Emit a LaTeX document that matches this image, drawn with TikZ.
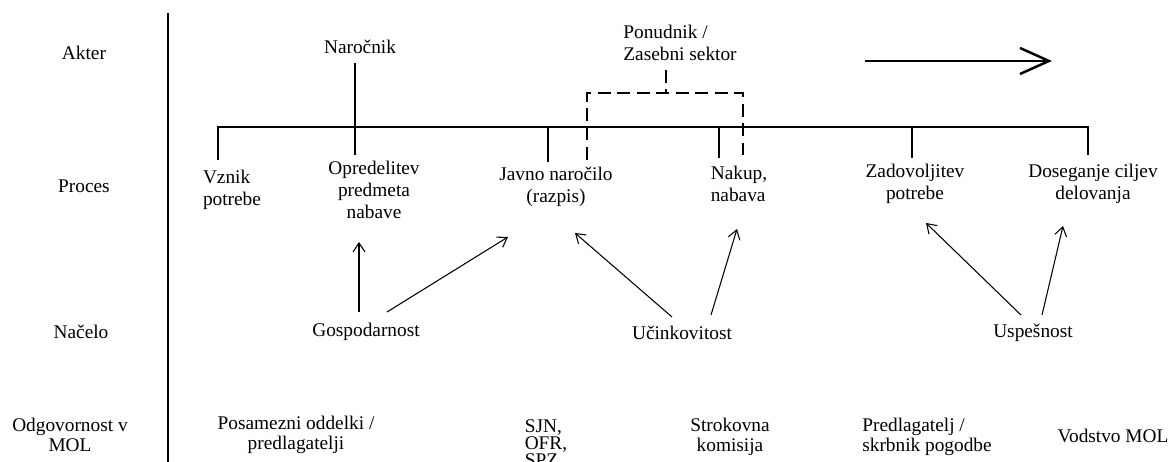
\documentclass[tikz,border=0pt]{standalone}
\usepackage{fontspec}
\setmainfont{Liberation Serif}
\usetikzlibrary{
	calc,               %计算
	arrows.meta         %提供各种箭头
}
\tikzset{
	every picture/.style={
		>={Straight Barb[length=1.8mm,width=2.4mm]},
		x=0.02cm, y=0.02cm
}}
\tikzset{txt/.style={inner sep=0pt, align=center,
		font=\fontsize{11}{12.5}\selectfont}}
\tikzset{txtl/.style={txt, align=left}}
\tikzset{txtb/.style={txt, font=\fontsize{11}{11.3}\selectfont}}
\tikzset{crta/.style={dash pattern=on 0.26cm off 0.13cm}}

\begin{document}
\begin{tikzpicture}[line width=0.6pt]
\useasboundingbox (0,0) rectangle (1170,462);
\clip (0,0) rectangle (1170,462);
%左边的行标题
\node[txt] (akter) at (84,409) {Akter};
\node[txt] (proces) at (84,276) {Proces};
\node[txt] (nacelo) at (81,130) {Načelo};
\node[txtb] (odgov) at (70,27) {Odgovornost v\\MOL};
%分隔竖线
\draw (168,449) -- (168,0);
%参与者
\node[txt] (narocnik) at (360,415) {Naročnik};
\node[txtl] (ponudnik) at (680,419) {Ponudnik /\\Zasebni sektor};
%大箭头
\coordinate (tok) at (865,401);
\coordinate (tokend) at (1052,401);
\draw[line width=1.4pt,-{Straight Barb[length=5.8mm,width=5.2mm]}] (tok) -- (tokend);
%过程
\node[txtl] (vznik) at (232,272) {Vznik\\potrebe};
\node[txt] (opred) at (374,272) {Opredelitev\\predmeta\\nabave};
\node[txt] (javno) at (556,275) {Javno naročilo\\(razpis)};
\node[txtl] (nakup) at (739,278) {Nakup,\\nabava};
\node[txt] (zadov) at (915,278) {Zadovoljitev\\potrebe};
\node[txt] (doseg) at (1093,278) {Doseganje ciljev\\delovanja};
%横线和竖线
\draw (218,302) -- (218,335) -- (1088,335) -- (1088,307);
\draw ($(narocnik)+(-5,-16)$) -- (355,307);
\draw (548,335) -- (548,300);
\draw (719,335) -- (719,304);
\draw (912,335) -- (912,304);
%虚线
\draw[crta] ($(ponudnik)+(-14,-27)$) -- (666,369);
\draw[crta] (587,302) -- (587,369) -- (743,369) -- (743,307);
%原则
\node[txt] (gosp) at (366,130) {Gospodarnost};
\node[txt] (ucink) at (682,129) {Učinkovitost};
\node[txt] (uspes) at (1033,129) {Uspešnost};
%箭头
\draw[->] ($(gosp)+(-7,20)$) -- ($(opred)+(-15,-52)$);
\draw[->] ($(gosp)+(21,20)$) -- ($(javno)+(-48,-50)$);
\draw[->] ($(ucink)+(-10,16)$) -- ($(javno)+(19,-46)$);
\draw[->] ($(ucink)+(29,18)$) -- ($(nakup)+(-2,-45)$);
\draw[->] ($(uspes)+(-12,18)$) -- ($(zadov)+(11,-39)$);
\draw[->] ($(uspes)+(9,18)$) -- ($(doseg)+(-30,-42)$);
%责任
\node[txtb] (posam) at (296,27) {Posamezni oddelki /\\predlagatelji};
\node[txtb,align=left] (sjn) at (546,19) {SJN,\\[-1.5pt]OFR,\\[-1.5pt]SPZ};
\node[txtb] (strok) at (730,25) {Strokovna\\komisija};
\node[txtb,align=left] (predl) at (927,25) {Predlagatelj /\\skrbnik pogodbe};
\node[txt] (vodstvo) at (1113,26) {Vodstvo MOL};
\end{tikzpicture}
\end{document}
